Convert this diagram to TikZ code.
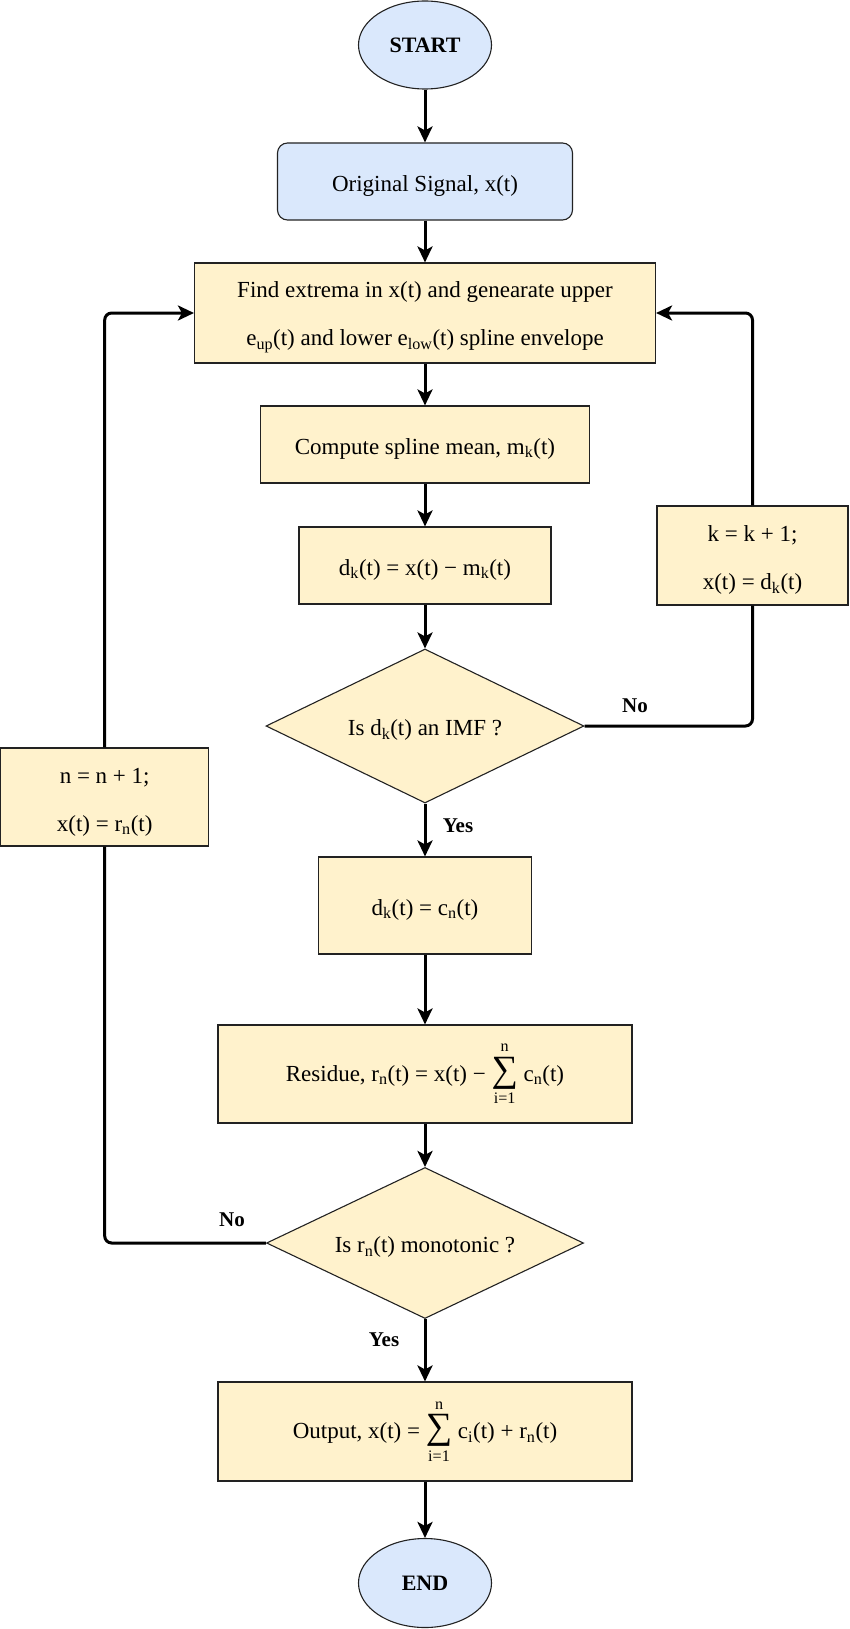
\documentclass[tikz,border=0pt]{standalone}
\usepackage{amsmath}
\usepackage{fontspec}
\setmainfont{Liberation Serif}
\usetikzlibrary{shapes.geometric,arrows.meta}
\definecolor{bluefill}{HTML}{DAE8FC}
\definecolor{yellowfill}{HTML}{FFF2CC}
\definecolor{edgecol}{HTML}{222222}
\newcommand{\sumlim}{$\mathop{\text{\fontsize{37}{37}\selectfont ∑}}\limits_{\text{i=1}}^{\text{n}}$}
\newcommand{\lowstrut}{\rule{0pt}{25pt}}
\begin{document}
\begin{tikzpicture}[x=1pt,y=-1pt,
  base/.style={draw=edgecol, line width=1.1pt, inner sep=0pt, align=center, font=\fontsize{23}{48}\selectfont},
  textlow/.style={execute at begin node={\rule{0pt}{24pt}}},
  blueell/.style={base, ellipse, fill=bluefill, font=\fontsize{22}{26}\selectfont\bfseries},
  bluebox/.style={base, textlow, rectangle, rounded corners=10pt, fill=bluefill},
  procbox/.style={base, textlow, rectangle, fill=yellowfill},
  decision/.style={base, textlow, diamond, aspect=2, fill=yellowfill},
  flowtip/.style={-{Stealth[length=16pt,width=15pt,inset=4pt]}},
  flow/.style={line width=3pt, flowtip},
  link/.style={line width=3pt, rounded corners=7pt},
  lbl/.style={font=\fontsize{21}{24}\selectfont\bfseries, inner sep=0pt}
]
\useasboundingbox (0,0) rectangle (850,1629);

\node[blueell, minimum width=133pt, minimum height=88pt] (start) at (425,45) {START};
\node[bluebox, minimum width=295pt, minimum height=77pt] (orig) at (425,181.5) {Original Signal, x(t)};
\node[procbox, minimum width=461pt, minimum height=100pt] (find) at (425,313)
  {\lowstrut Find extrema in x(t) and genearate upper\\e\textsubscript{up}(t) and lower e\textsubscript{low}(t) spline envelope};
\node[procbox, minimum width=329pt, minimum height=77pt] (mean) at (425,444.5) {Compute spline mean, m\textsubscript{k}(t)};
\node[procbox, minimum width=252pt, minimum height=77pt] (dk) at (425,565.5) {d\textsubscript{k}(t) = x(t) − m\textsubscript{k}(t)};
\node[procbox, minimum width=191pt, minimum height=99pt] (kbox) at (752.5,555.5) {\lowstrut k = k + 1;\\x(t) = d\textsubscript{k}(t)};
\node[decision, minimum width=318pt, minimum height=154pt] (imf) at (425,726) {Is d\textsubscript{k}(t) an IMF ?};
\node[procbox, minimum width=208pt, minimum height=98pt] (nbox) at (104.7,797) {\lowstrut n = n + 1;\\x(t) = r\textsubscript{n}(t)};
\node[procbox, minimum width=213pt, minimum height=97pt] (cn) at (425,905.5) {d\textsubscript{k}(t) = c\textsubscript{n}(t)};
\node[procbox, minimum width=414pt, minimum height=98pt] (res) at (425,1074) {Residue, r\textsubscript{n}(t) = x(t) − \sumlim\ c\textsubscript{n}(t)};
\node[decision, minimum width=317pt, minimum height=151pt] (mono) at (425,1243) {Is r\textsubscript{n}(t) monotonic ?};
\node[procbox, minimum width=414pt, minimum height=99pt] (out) at (425,1431.5) {Output, x(t) = \sumlim\ c\textsubscript{i}(t) + r\textsubscript{n}(t)};
\node[blueell, minimum width=133pt, minimum height=89pt] (stop) at (425,1583) {END};

\node[lbl] (noA) at (635,706) {No};
\node[lbl] (yesA) at (458,826) {Yes};
\node[lbl] (noB) at (232,1220) {No};
\node[lbl] (yesB) at (384,1340) {Yes};

\draw[flow] (start) -- (orig);
\draw[flow] (orig) -- (find);
\draw[flow] (find) -- (mean);
\draw[flow] (mean) -- (dk);
\draw[flow] (dk) -- (imf);
\draw[flow] (imf) -- (cn);
\draw[link] (imf.east) -- (kbox.south |- imf.east) -- (kbox.south);
\draw[link, flowtip] (kbox.north) -- (kbox.north |- find.east) -- (find.east);
\draw[flow] (cn) -- (res);
\draw[flow] (res) -- (mono);
\draw[link] (mono.west) -- (nbox.south |- mono.west) -- (nbox.south);
\draw[link, flowtip] (nbox.north) -- (nbox.north |- find.west) -- (find.west);
\draw[flow] (mono) -- (out);
\draw[flow] (out) -- (stop);
\end{tikzpicture}
\end{document}
